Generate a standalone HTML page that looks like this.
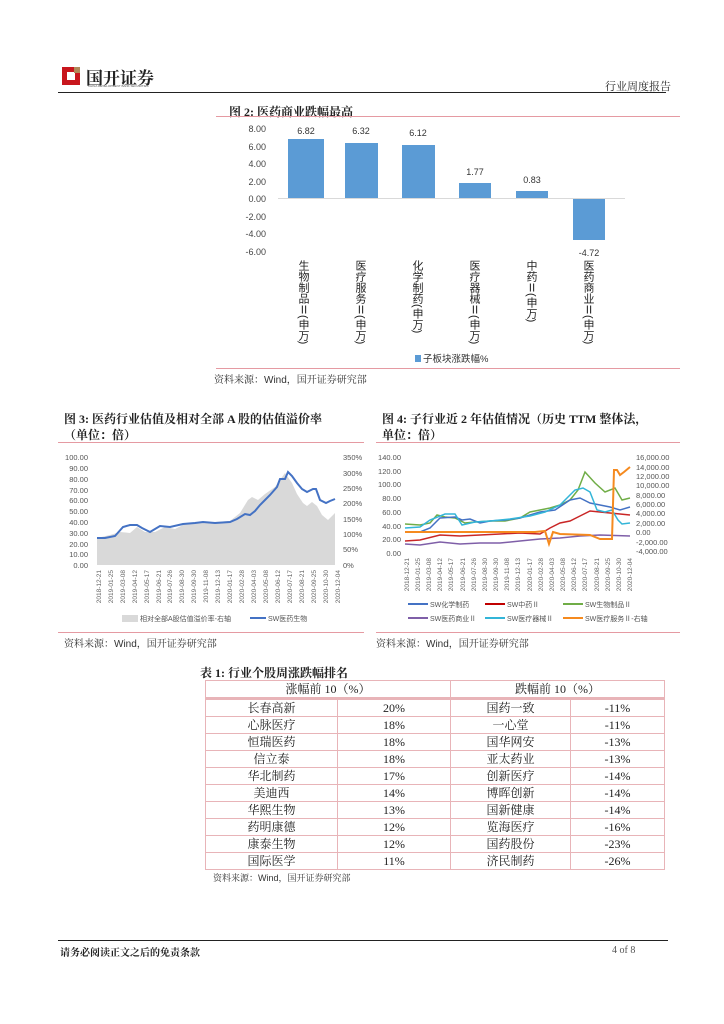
<!DOCTYPE html>
<html><head><meta charset="utf-8"><style>
body{margin:0;width:724px;height:1024px;background:#fff;position:relative;overflow:hidden;font-family:"Liberation Sans","Noto Sans CJK SC",sans-serif;color:#222}
.a{position:absolute;white-space:nowrap}
.t{font-family:"Liberation Serif","Noto Serif CJK SC",serif;font-weight:bold;font-size:12px}
.src{font-size:10px;color:#333;font-family:"Liberation Sans","Noto Serif CJK SC",serif}
.rl{position:absolute;height:2px;background:#e59aa2}
table{border-collapse:collapse;font-family:"Liberation Serif","Noto Serif CJK SC",serif;font-size:12px}
td{border:1px solid #e8b4b8;text-align:center;height:16px;padding:0;line-height:16px}
</style></head><body>
<!-- header -->
<div class="a" style="left:62px;top:67px;width:18px;height:18px;background:#c8161d"></div>
<div class="a" style="left:67px;top:72px;width:8px;height:8px;background:#fff"></div>
<div class="a" style="left:74px;top:67px;width:6px;height:6px;background:#b08a5a"></div>
<div class="a t" style="left:86px;top:64px;font-size:17px;color:#222">国开证券</div>
<div class="a" style="left:88px;top:84px;font-size:3px;color:#555">CHINA DEVELOPMENT BANK SECURITIES</div>
<div class="a" style="left:605px;top:78px;font-size:11px;font-family:'Noto Serif CJK SC',serif">行业周度报告</div>
<div class="a" style="left:58px;top:92px;width:608px;height:1px;background:#222"></div>

<!-- fig2 -->
<div class="a t" style="left:229px;top:103px">图 2:  医药商业跌幅最高</div>
<div class="rl" style="left:216px;top:116px;width:464px;height:1px"></div>
<svg class="a" style="left:0;top:0" width="724" height="400">
<g font-size="9" fill="#444" text-anchor="end" font-family="Liberation Sans">
<text x="266" y="132">8.00</text><text x="266" y="150">6.00</text><text x="266" y="167">4.00</text><text x="266" y="185">2.00</text><text x="266" y="202">0.00</text><text x="266" y="220">-2.00</text><text x="266" y="237">-4.00</text><text x="266" y="255">-6.00</text>
</g>
<line x1="278" y1="198.5" x2="625" y2="198.5" stroke="#d9d9d9"/>
<g fill="#5b9bd5">
<rect x="288" y="139" width="36" height="59"/><rect x="345" y="143" width="33" height="55"/><rect x="402" y="145" width="33" height="53"/><rect x="459" y="183" width="32" height="15"/><rect x="516" y="191" width="32" height="7"/><rect x="573" y="199" width="32" height="41"/>
</g>
<g font-size="9" fill="#333" text-anchor="middle" font-family="Liberation Sans">
<text x="306" y="134">6.82</text><text x="361" y="134">6.32</text><text x="418" y="136">6.12</text><text x="475" y="175">1.77</text><text x="532" y="183">0.83</text><text x="589" y="256">-4.72</text>
</g>
<rect x="415" y="355" width="6" height="7" fill="#5b9bd5"/>
<text x="423" y="362" font-size="9.5" fill="#333">子板块涨跌幅%</text>
</svg>
<div class="a" style="left:297px;top:260px;writing-mode:vertical-rl;font-size:11px;line-height:12px">生物制品Ⅱ(申万)</div>
<div class="a" style="left:354px;top:260px;writing-mode:vertical-rl;font-size:11px;line-height:12px">医疗服务Ⅱ(申万)</div>
<div class="a" style="left:411px;top:260px;writing-mode:vertical-rl;font-size:11px;line-height:12px">化学制药(申万)</div>
<div class="a" style="left:468px;top:260px;writing-mode:vertical-rl;font-size:11px;line-height:12px">医疗器械Ⅱ(申万)</div>
<div class="a" style="left:525px;top:260px;writing-mode:vertical-rl;font-size:11px;line-height:12px">中药Ⅱ(申万)</div>
<div class="a" style="left:582px;top:260px;writing-mode:vertical-rl;font-size:11px;line-height:12px">医药商业Ⅱ(申万)</div>
<div class="rl" style="left:216px;top:368px;width:464px;height:1px"></div>
<div class="a src" style="left:214px;top:371px">资料来源：Wind，国开证券研究部</div>

<!-- fig3 -->
<div class="a t" style="left:64px;top:411px;line-height:16px">图 3:  医药行业估值及相对全部 A 股的估值溢价率<br>（单位：倍）</div>
<div class="rl" style="left:58px;top:442px;width:306px;height:1px"></div>
<svg class="a" style="left:0;top:0" width="724" height="660">
<g font-size="7.5" fill="#555" text-anchor="end" font-family="Liberation Sans">
<text x="88" y="460">100.00</text><text x="88" y="471">90.00</text><text x="88" y="482">80.00</text><text x="88" y="493">70.00</text><text x="88" y="503">60.00</text><text x="88" y="514">50.00</text><text x="88" y="525">40.00</text><text x="88" y="536">30.00</text><text x="88" y="547">20.00</text><text x="88" y="557">10.00</text><text x="88" y="568">0.00</text>
</g>
<g font-size="7.5" fill="#555" font-family="Liberation Sans">
<text x="343" y="460">350%</text><text x="343" y="476">300%</text><text x="343" y="491">250%</text><text x="343" y="506">200%</text><text x="343" y="522">150%</text><text x="343" y="537">100%</text><text x="343" y="552">50%</text><text x="343" y="568">0%</text>
</g>
<polygon fill="#d9d9d9" points="97,565 97,538 110,535 120,532 130,533 137,527 145,532 155,532 165,527 175,529 185,524 200,523 215,522 230,521 240,513 248,500 252,497 258,500 265,494 275,487 285,473 292,483 297,494 303,503 307,506 312,502 317,506 322,515 328,520 335,513 335,565"/>
<polyline fill="none" stroke="#4472c4" stroke-width="2" points="97,538 105,538 115,536 123,527 130,525 137,525 142,528 150,532 160,526 170,527 183,524 195,523 203,522 215,523 230,522 237,519 245,514 250,515 255,511 260,505 265,500 270,495 277,487 280,479 285,479 288,472 292,476 297,483 302,489 307,492 313,489 316,489 320,500 326,503 330,501 335,499"/>
<g font-size="6.5" fill="#666" font-family="Liberation Sans" text-anchor="end">
<text transform="translate(101,570) rotate(-90)">2018-12-21</text><text transform="translate(113,570) rotate(-90)">2019-01-25</text><text transform="translate(125,570) rotate(-90)">2019-03-08</text><text transform="translate(137,570) rotate(-90)">2019-04-12</text><text transform="translate(149,570) rotate(-90)">2019-05-17</text><text transform="translate(161,570) rotate(-90)">2019-06-21</text><text transform="translate(172,570) rotate(-90)">2019-07-26</text><text transform="translate(184,570) rotate(-90)">2019-08-30</text><text transform="translate(196,570) rotate(-90)">2019-09-30</text><text transform="translate(208,570) rotate(-90)">2019-11-08</text><text transform="translate(220,570) rotate(-90)">2019-12-13</text><text transform="translate(232,570) rotate(-90)">2020-01-17</text><text transform="translate(244,570) rotate(-90)">2020-02-28</text><text transform="translate(256,570) rotate(-90)">2020-04-03</text><text transform="translate(268,570) rotate(-90)">2020-05-08</text><text transform="translate(280,570) rotate(-90)">2020-06-12</text><text transform="translate(292,570) rotate(-90)">2020-07-17</text><text transform="translate(304,570) rotate(-90)">2020-08-21</text><text transform="translate(316,570) rotate(-90)">2020-09-25</text><text transform="translate(328,570) rotate(-90)">2020-10-30</text><text transform="translate(340,570) rotate(-90)">2020-12-04</text>
</g>
<rect x="122" y="615" width="16" height="7" fill="#d9d9d9"/>
<text x="140" y="621" font-size="7" fill="#555">相对全部A股估值溢价率-右轴</text>
<line x1="250" y1="618" x2="266" y2="618" stroke="#4472c4" stroke-width="2"/>
<text x="268" y="621" font-size="7" fill="#555">SW医药生物</text>

<!-- fig4 -->
<g font-size="7.5" fill="#555" text-anchor="end" font-family="Liberation Sans">
<text x="401" y="460">140.00</text><text x="401" y="474">120.00</text><text x="401" y="487">100.00</text><text x="401" y="501">80.00</text><text x="401" y="515">60.00</text><text x="401" y="529">40.00</text><text x="401" y="542">20.00</text><text x="401" y="556">0.00</text>
</g>
<g font-size="7.5" fill="#555" font-family="Liberation Sans">
<text x="636" y="460">16,000.00</text><text x="636" y="470">14,000.00</text><text x="636" y="479">12,000.00</text><text x="636" y="488">10,000.00</text><text x="636" y="498">8,000.00</text><text x="636" y="507">6,000.00</text><text x="636" y="516">4,000.00</text><text x="636" y="526">2,000.00</text><text x="636" y="535">0.00</text><text x="636" y="545">-2,000.00</text><text x="636" y="554">-4,000.00</text>
</g>
<g fill="none" stroke-width="1.5">
<polyline stroke="#70ad47" points="405,524 420,525 430,523 437,515 445,517 455,518 465,523 475,522 490,521 505,521 520,518 530,512 540,510 550,508 560,505 570,500 578,490 585,472 595,483 605,492 615,488 622,500 626,499 630,498"/>
<polyline stroke="#4472c4" points="405,532 420,532 430,528 440,518 455,517 462,520 470,519 480,523 490,521 505,520 520,518 530,515 540,512 555,510 570,500 580,498 590,503 600,505 610,507 620,510 630,507"/>
<polyline stroke="#c00000" stroke-opacity=".85" points="405,541 420,540 440,535 460,536 480,535 500,534 520,533 540,534 550,528 560,523 570,521 580,516 590,511 600,512 610,513 620,514 630,515"/>
<polyline stroke="#33b5d8" points="405,528 420,527 430,520 445,514 455,514 462,525 475,522 490,521 510,519 530,516 545,512 560,505 575,490 583,488 590,492 597,510 605,512 612,510 618,520 622,524 630,523"/>
<polyline stroke="#7f5fa8" points="405,544 420,545 440,542 460,544 480,543 500,543 520,541 540,539 560,538 580,536 600,535 630,536"/>
<polyline stroke="#f58a1f" stroke-width="2" points="405,532 500,532 535,532 545,531 549,544 553,532 560,534 590,535 600,539 612,539 614,470 617,470 620,475 624,472 630,467"/>
</g>
<g font-size="6.5" fill="#666" font-family="Liberation Sans" text-anchor="end">
<text transform="translate(409,558) rotate(-90)">2018-12-21</text><text transform="translate(420,558) rotate(-90)">2019-01-25</text><text transform="translate(431,558) rotate(-90)">2019-03-08</text><text transform="translate(442,558) rotate(-90)">2019-04-12</text><text transform="translate(453,558) rotate(-90)">2019-05-17</text><text transform="translate(465,558) rotate(-90)">2019-06-21</text><text transform="translate(476,558) rotate(-90)">2019-07-26</text><text transform="translate(487,558) rotate(-90)">2019-08-30</text><text transform="translate(498,558) rotate(-90)">2019-09-30</text><text transform="translate(509,558) rotate(-90)">2019-11-08</text><text transform="translate(520,558) rotate(-90)">2019-12-13</text><text transform="translate(532,558) rotate(-90)">2020-01-17</text><text transform="translate(543,558) rotate(-90)">2020-02-28</text><text transform="translate(554,558) rotate(-90)">2020-04-03</text><text transform="translate(565,558) rotate(-90)">2020-05-08</text><text transform="translate(576,558) rotate(-90)">2020-06-12</text><text transform="translate(587,558) rotate(-90)">2020-07-17</text><text transform="translate(599,558) rotate(-90)">2020-08-21</text><text transform="translate(610,558) rotate(-90)">2020-09-25</text><text transform="translate(621,558) rotate(-90)">2020-10-30</text><text transform="translate(632,558) rotate(-90)">2020-12-04</text>
</g>
<g font-size="7" fill="#555">
<line x1="408" y1="604" x2="428" y2="604" stroke="#4472c4" stroke-width="2"/><text x="430" y="607">SW化学制药</text>
<line x1="485" y1="604" x2="505" y2="604" stroke="#c00000" stroke-width="2"/><text x="507" y="607">SW中药Ⅱ</text>
<line x1="563" y1="604" x2="583" y2="604" stroke="#70ad47" stroke-width="2"/><text x="585" y="607">SW生物制品Ⅱ</text>
<line x1="408" y1="618" x2="428" y2="618" stroke="#7f5fa8" stroke-width="2"/><text x="430" y="621">SW医药商业Ⅱ</text>
<line x1="485" y1="618" x2="505" y2="618" stroke="#33b5d8" stroke-width="2"/><text x="507" y="621">SW医疗器械Ⅱ</text>
<line x1="563" y1="618" x2="583" y2="618" stroke="#f58a1f" stroke-width="2"/><text x="585" y="621">SW医疗服务Ⅱ-右轴</text>
</g>
</svg>
<div class="rl" style="left:58px;top:632px;width:306px;height:1px"></div>
<div class="a src" style="left:64px;top:635px">资料来源：Wind，国开证券研究部</div>

<div class="a t" style="left:382px;top:411px;line-height:16px">图 4:  子行业近 2 年估值情况（历史 TTM 整体法，<br>单位：倍）</div>
<div class="rl" style="left:376px;top:442px;width:304px;height:1px"></div>
<div class="rl" style="left:376px;top:632px;width:304px;height:1px"></div>
<div class="a src" style="left:376px;top:635px">资料来源：Wind，国开证券研究部</div>

<!-- table -->
<div class="a t" style="left:200px;top:664px">表 1:  行业个股周涨跌幅排名</div>
<table class="a" style="left:205px;top:680px;width:460px">
<tr style="border-bottom:3px solid #e8b4b8"><td colspan="2" style="width:244px">涨幅前 10（%）</td><td colspan="2">跌幅前 10（%）</td></tr>
<tr><td style="width:131px">长春高新</td><td style="width:112px">20%</td><td style="width:119px">国药一致</td><td>-11%</td></tr>
<tr><td>心脉医疗</td><td>18%</td><td>一心堂</td><td>-11%</td></tr>
<tr><td>恒瑞医药</td><td>18%</td><td>国华网安</td><td>-13%</td></tr>
<tr><td>信立泰</td><td>18%</td><td>亚太药业</td><td>-13%</td></tr>
<tr><td>华北制药</td><td>17%</td><td>创新医疗</td><td>-14%</td></tr>
<tr><td>美迪西</td><td>14%</td><td>博晖创新</td><td>-14%</td></tr>
<tr><td>华熙生物</td><td>13%</td><td>国新健康</td><td>-14%</td></tr>
<tr><td>药明康德</td><td>12%</td><td>览海医疗</td><td>-16%</td></tr>
<tr><td>康泰生物</td><td>12%</td><td>国药股份</td><td>-23%</td></tr>
<tr><td>国际医学</td><td>11%</td><td>济民制药</td><td>-26%</td></tr>
</table>
<div class="a src" style="left:213px;top:871px;font-size:9px">资料来源：Wind，国开证券研究部</div>

<!-- footer -->
<div class="a" style="left:58px;top:940px;width:610px;height:1px;background:#222"></div>
<div class="a t" style="left:60px;top:944px;font-size:10px">请务必阅读正文之后的免责条款</div>
<div class="a" style="left:612px;top:945px;font-size:10px;font-family:'Liberation Serif',serif;color:#555">4 of 8</div>
</body></html>
